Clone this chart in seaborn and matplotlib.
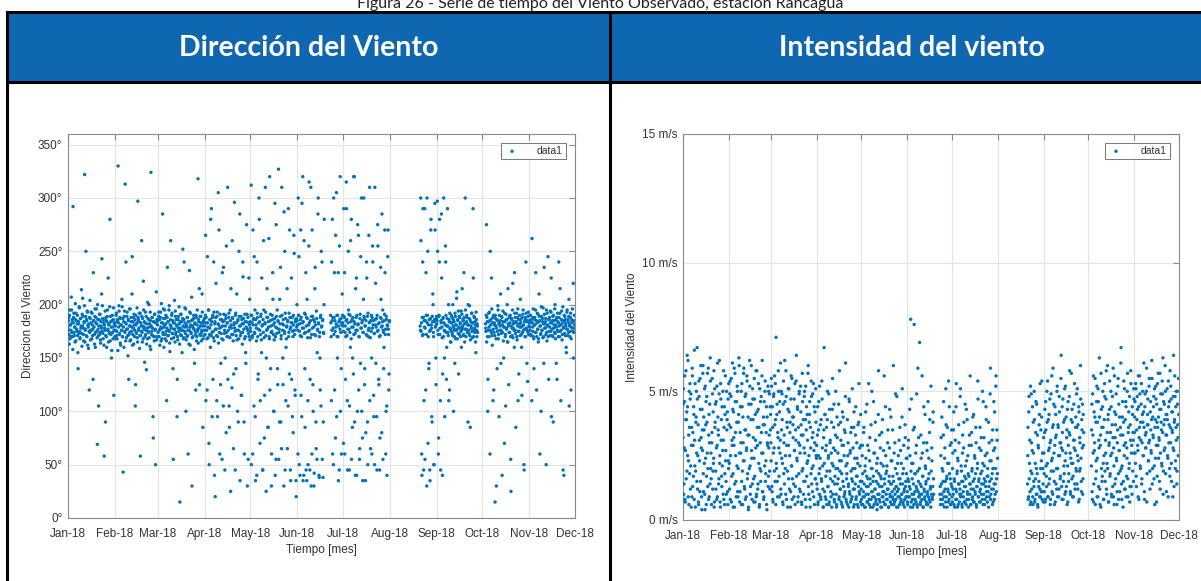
import numpy as np
import pandas as pd
import matplotlib
matplotlib.use("Agg")
import matplotlib.pyplot as plt
import matplotlib.dates as mdates
from matplotlib.ticker import FixedLocator, FuncFormatter
from matplotlib.patches import Rectangle
from matplotlib.lines import Line2D
import seaborn as sns

# ---------------- data (time series) ----------------
segments = [  # (start, end) of each month piece that has data
    ("2018-01-01", "2018-01-31 16:00"),
    ("2018-02-01", "2018-02-28 16:00"),
    ("2018-03-01", "2018-03-31 16:00"),
    ("2018-04-01", "2018-04-30 16:00"),
    ("2018-05-01", "2018-05-31 16:00"),
    ("2018-06-01", "2018-06-18 16:00"),
    ("2018-06-23", "2018-06-30 16:00"),
    ("2018-07-01", "2018-07-31 16:00"),
    ("2018-08-21", "2018-08-31 16:00"),
    ("2018-09-01", "2018-09-27 16:00"),
    ("2018-10-03", "2018-10-31 16:00"),
    ("2018-11-01", "2018-11-30 16:00"),
]

# wind direction [deg], two interleaved sample sets per piece
dir_jan = "178 185 172 190 168 181 176 195 183 170 292 188 174 179 165 186 192 177 182 171 140 184 198 175 169 187 180 173 191 206 178 166 183 322 176 189 171 185 194 162 179 182 120 174 187 176 193 168 181 177 230 185 172 189 160 183 196 175 69 186 171 180 191 174 167 184 178 243 199 173 186 162 181 176 90 188 170 184 195 177 165 182 174 280 189 172 150 185 179 168 197 176 183"
dir_jan_b = "176 188 163 195 181 170 207 174 186 158 183 192 171 179 201 166 185 175 190 155 182 173 197 168 187 178 214 161 180 189 172 184 199 165 177 250 186 170 193 181 159 175 188 204 167 183 176 192 171 130 185 179 163 196 174 188 182 169 200 177 105 186 172 191 164 180 210 175 187 168 183 58 178 194 171 185 160 189 176 225 181 173 198 166 184 179 157 190 174 186 115 182 170"
dir_feb = "183 176 190 171 168 185 330 179 194 173 187 162 181 176 198 170 43 184 189 175 313 166 182 177 193 171 186 130 180 174 196 167 184 179 245 172 188 163 181 176 105 190 174 183 169 297 186 178 192 171 58 183 175 189 165 180 222 177 184 170 193 176 139 182 168 187 174 200 179 161 185 324 172 188 178 95 184 170 191 176 50 183 167 186"
dir_feb_b = "180 168 192 175 186 157 183 199 172 188 164 181 176 205 170 187 179 160 194 174 183 240 169 189 177 152 185 172 196 166 180 188 175 210 162 184 178 191 170 186 125 181 173 197 165 188 176 184 159 192 171 180 260 174 187 168 195 179 146 183 172 189 163 178 202 175 186 169 182 193 158 180 175 188 171 75 184 166 191 177 183 212 170 186"
dir_mar = "181 174 189 170 186 177 193 166 183 178 285 172 187 179 195 168 182 175 110 188 171 184 176 199 164 181 260 178 190 173 185 55 169 183 177 194 172 186 180 130 167 189 175 182 15 178 191 171 184 176 252 168 186 179 197 173 100 181 170 188 176 184 163 232 179 192 174 185 30 180 170 187 177 145 183 172 190 166 181 175 318 186 178 125 189 171 183 174 210 180 168 185 176"
dir_mar_b = "185 170 193 176 162 188 179 201 168 183 174 196 160 181 187 172 190 166 178 235 184 171 195 175 156 186 180 168 192 173 140 183 177 204 165 189 174 181 95 170 186 178 198 163 184 172 191 176 155 187 180 169 240 175 183 196 167 179 188 171 60 184 176 193 162 181 173 207 169 186 178 190 158 182 175 120 188 170 195 177 164 184 215 172 180 189 166 176 193 85 183 171 187"
dir_apr = "180 172 265 188 176 120 183 169 195 50 178 186 280 171 184 95 190 175 240 166 182 20 188 177 110 193 170 305 181 174 60 186 145 179 168 230 184 105 191 173 45 180 187 255 170 183 130 176 192 85 169 185 215 178 122 188 172 65 181 296 175 190 140 183 167 100 186 176 250 180 35 171 189 115 182 174 226 187 90 168 184 155 179 275 191 176 55 183 170 205"
dir_apr_b = "176 190 110 183 168 245 179 195 70 172 186 160 181 290 174 188 130 169 193 40 184 177 220 171 189 95 182 164 270 178 191 125 173 186 55 180 167 235 185 176 150 190 80 174 183 310 170 188 105 179 195 25 181 172 260 187 166 135 183 178 45 192 171 210 176 185 90 168 189 285 180 174 115 186 163 240 182 177 60 191 170 145 184 178 30 188 173 225 181 167"
dir_may = "184 175 312 190 169 60 181 187 245 173 95 186 178 40 192 170 135 183 280 176 110 189 167 225 181 45 174 195 75 182 310 171 150 188 177 85 184 262 168 120 191 180 30 175 186 205 172 100 183 295 170 55 189 178 140 185 327 174 90 182 235 168 65 190 176 125 181 287 173 45 187 160 179 215 184 105 170 192 270 177 35 183 130 188 175 80 181 248 172 115 186 20 179"
dir_may_b = "178 190 50 183 171 270 186 105 174 195 35 181 166 240 188 130 177 300 184 70 172 191 155 180 45 186 260 169 115 183 193 25 176 215 188 85 179 170 320 185 140 174 60 190 230 181 100 167 187 40 179 275 173 195 125 184 55 177 205 189 90 171 310 182 150 186 30 175 250 192 110 168 180 65 185 290 174 135 188 45 179 225 183 95 170 190 265 176 120 184 35 187 200"
dir_jun_a = "185 176 300 190 50 182 171 270 188 95 178 320 184 40 173 140 191 230 180 35 187 110 175 255 183 45 169 310 189 60 178 125 186 30 172 215 181 90 194 55 176 285 183 40 170 150 188 105 179 240 185 38 174 200"
dir_jun_a_b = "181 60 190 245 175 40 186 115 170 295 183 35 178 260 192 85 174 45 188 205 169 50 181 315 176 130 185 30 172 270 189 100 179 42 184 235 171 65 187 155 177 300 182 38 174 120 190 250 180 55 186 90 173 280"
dir_jun_b = "190 170 240 185 60 178 300 188 120 175 265 182 95 170 190 230 180 45 186 320 174 140 183 210"
dir_jun_b_b = "183 110 176 280 188 50 172 230 185 75 179 305 190 150 170 35 184 255 177 100 187 60 181 190"
dir_jul = "183 175 290 188 60 180 170 315 186 110 177 250 191 45 174 160 184 280 179 85 188 135 172 320 182 40 176 225 190 100 181 265 170 55 187 145 178 300 183 75 174 205 189 125 180 35 185 240 171 90 192 170 178 310 184 65 175 150 188 255 181 115 173 50 186 220 179 95 190 275 176 130 183 45 171 235 187 80 180 195 176 140 185 270 172 60 189 105 181 245 177 120 184"
dir_jul_b = "180 70 189 230 174 130 185 290 171 45 183 195 177 105 190 260 168 55 186 150 179 320 184 90 173 215 188 40 176 275 182 120 170 65 191 245 178 100 185 35 174 300 187 140 180 80 172 225 189 50 176 265 183 110 169 185 190 60 178 240 185 95 173 310 181 145 187 45 175 255 182 125 170 75 188 205 179 285 184 55 174 160 191 230 177 100 186 40 180 270 172 135 185"
dir_aug = "180 300 175 60 188 240 172 45 185 290 178 120 190 30 183 250 170 140 186 45 176 270 181 95 189 210 174 50 184 295 179 150 187"
dir_aug_b = "176 260 183 40 171 290 188 110 179 55 185 230 172 300 190 70 181 145 175 35 187 280 178 90 184 200 170 50 186 270 180 125 189"
dir_sep = "182 297 176 60 189 240 172 110 185 285 179 40 187 170 183 150 175 255 190 130 180 290 174 200 186 120 178 165 183 175 188 171 180 100 184 176 192 168 181 206 177 186 173 135 189 178 182 170 194 176 215 180 185 172 188 165 300 183 177 190 174 181 200 176 187 171 85 184 178 192 169 183 225 176 188 174 181 155 186 170 180"
dir_sep_b = "185 250 172 75 190 280 178 45 183 225 169 135 188 300 176 95 181 240 174 160 187 180 171 110 184 192 177 165 190 183 173 200 186 178 170 145 189 181 176 212 168 185 194 179 172 188 183 175 160 191 178 186 171 230 182 177 195 170 184 188 176 90 181 173 199 186 167 180 192 175 183 290 170 189 178 184 165 193 176 182 174"
dir_oct = "182 175 275 188 170 130 184 179 193 60 176 186 225 171 183 110 190 174 181 15 187 168 178 140 185 195 172 95 183 180 210 176 189 40 174 184 150 179 192 170 105 186 178 200 165 182 125 188 174 190 55 180 186 171 220 178 184 160 192 176 85 183 170 188 196 175 135 182 179 205 186 172 115 180 191 176 50 184 170 188 240 178 145 185 174 193 180"
dir_oct_b = "178 190 165 184 100 176 192 170 185 250 181 174 196 162 188 177 120 183 171 190 180 30 186 175 199 168 182 190 176 185 145 173 188 181 194 166 179 70 184 172 191 177 186 165 215 180 174 189 183 170 25 187 178 195 169 182 176 230 188 173 184 192 167 180 110 186 175 190 171 183 179 160 188 174 195 181 45 177 186 170 192 184 176 128 189 172 183"
dir_nov = "185 176 190 172 183 262 179 188 170 140 186 181 195 174 120 183 177 191 168 210 185 180 172 100 189 176 184 197 170 235 182 178 187 50 174 192 181 170 130 186 179 194 175 225 183 171 189 90 178 185 196 173 181 145 188 176 184 170 240 180 192 175 110 186 182 172 198 178 40 184 189 171 180 155 193 177 186 174 205 182 170 188 120 179 184 196 175 150 185 178"
dir_nov_b = "179 190 171 186 110 183 175 196 168 181 188 174 230 185 170 192 177 165 184 189 60 180 173 198 176 187 169 182 145 191 178 184 172 195 166 180 245 186 175 188 171 183 193 95 177 185 170 190 181 174 200 168 186 179 130 192 175 183 188 170 215 181 176 194 167 185 45 179 190 173 186 182 160 177 195 171 184 189 105 180 175 192 168 186 178 183 220 174 190 181"

# wind speed [m/s]
spd_jan = "3.2 5.1 1.4 4.6 0.8 2.7 5.8 3.9 1.9 4.4 6.2 2.3 0.6 3.6 5.3 1.2 4.9 2.9 0.9 5.6 3.4 1.7 4.1 6.6 2.1 0.5 3.8 5.0 1.5 4.7 2.5 0.7 5.4 3.1 1.1 4.3 6.0 2.8 0.4 3.5 5.7 1.8 4.0 2.2 1.0 5.2 3.7 0.6 4.8 2.6 1.3 5.9 3.3 0.9 4.5 6.3 2.0 1.6 3.0 5.5 1.2 4.2 2.4 0.5 5.1 3.8 1.9 4.6 0.8 2.9 6.1 3.5 1.4 4.9 2.2 0.7 5.3 3.1 1.7 4.4 2.7 1.0 5.8 3.6 0.6 4.1 2.3 1.5 5.0 3.9 1.1 4.7 2.0"
spd_jan_b = "4.5 1.0 2.8 5.6 0.7 3.9 1.6 4.2 6.4 2.5 0.9 3.3 5.0 1.8 4.7 2.1 0.5 3.6 5.9 1.3 2.9 4.4 0.8 3.1 5.3 1.9 4.0 2.6 6.7 1.2 3.7 0.6 4.8 2.3 5.5 1.5 3.2 0.9 4.3 2.7 6.0 1.1 3.5 5.1 0.4 2.4 4.6 1.7 3.8 5.7 2.0 0.8 4.1 3.0 1.4 5.4 2.6 0.6 3.4 4.9 1.9 2.2 5.8 0.7 3.6 4.5 1.2 2.8 5.2 0.9 4.0 3.3 1.6 6.2 2.5 0.5 4.7 3.9 1.3 2.1 5.0 3.1 0.8 4.4 1.8 5.6 2.7 1.0 3.5 4.2 0.6 2.3 5.3"
spd_feb = "3.7 1.2 5.4 2.5 4.8 0.7 3.1 6.1 1.8 4.2 2.9 0.5 5.7 3.4 1.5 4.6 2.1 5.0 0.9 3.8 6.3 2.6 1.1 4.4 3.0 0.6 5.3 1.9 4.0 2.3 5.9 1.3 3.5 0.8 4.9 2.7 5.6 1.6 3.3 0.4 4.5 2.0 5.2 1.0 3.9 6.0 2.4 1.4 4.7 3.2 0.7 5.5 1.7 4.1 2.8 0.9 5.8 3.6 1.2 4.3 2.2 0.5 5.1 3.0 1.5 4.8 2.6 6.2 1.1 3.7 0.8 4.6 2.1 5.4 1.8 3.4 0.6 4.0 2.9 1.3 5.0 3.3 1.9 4.4"
spd_feb_b = "2.2 4.9 0.8 3.6 5.5 1.7 2.9 4.3 0.5 3.2 5.9 1.4 4.6 2.5 0.9 3.8 5.2 1.1 2.0 4.1 6.0 0.7 3.4 2.6 5.0 1.5 4.4 0.6 3.0 5.7 2.3 1.2 4.8 3.5 0.9 2.8 5.4 1.8 4.0 0.5 3.3 6.2 2.1 1.3 4.5 2.7 0.8 5.1 3.9 1.6 2.4 4.7 0.7 3.1 5.8 1.0 4.2 2.9 1.4 5.3 3.6 0.6 2.0 4.6 1.9 3.4 5.6 1.1 2.6 4.0 0.9 3.7 5.0 1.5 2.3 4.4 0.4 3.0 5.2 1.7 2.8 4.9 1.2 3.5"
spd_mar = "4.1 2.3 5.2 1.1 3.6 0.7 4.8 2.8 5.6 1.5 3.9 7.1 2.0 4.5 0.9 3.2 5.0 1.7 4.2 2.6 6.1 1.0 3.5 4.9 2.2 0.6 5.4 3.0 1.4 4.6 2.5 5.8 0.8 3.8 1.9 4.3 2.9 5.1 1.2 3.4 0.5 4.7 2.1 5.5 1.6 3.7 4.0 0.9 2.7 5.3 1.3 3.1 6.4 2.4 4.4 0.7 3.6 1.8 5.0 2.9 1.1 4.2 3.3 0.6 5.7 2.0 3.9 1.5 4.8 2.6 0.8 5.2 3.5 1.7 4.1 2.3 6.0 1.0 3.8 4.6 0.5 2.8 5.4 1.4 3.2 4.9 2.1 0.9 4.4 3.0 1.6 5.1 2.5"
spd_mar_b = "3.0 5.5 1.3 4.4 0.8 2.6 4.9 1.9 3.7 5.3 0.6 2.2 4.1 1.5 3.4 5.8 2.8 0.9 4.6 3.1 1.2 5.0 2.4 3.9 0.7 4.5 1.8 3.3 6.2 2.0 1.0 4.8 2.9 3.6 0.5 5.1 1.6 4.2 2.5 3.8 1.1 5.6 2.1 0.8 4.0 3.2 1.4 4.7 2.7 0.6 3.5 5.4 1.7 2.3 4.3 0.9 3.0 4.9 1.2 2.6 5.2 3.7 0.7 1.9 4.6 3.3 1.0 2.8 5.0 1.5 3.9 0.5 4.4 2.2 3.1 5.7 1.3 2.5 4.1 0.8 3.6 1.8 4.8 2.0 1.1 3.4 5.3 2.7 0.6 4.2 1.6 3.8 2.4"
spd_apr = "2.9 1.2 4.4 0.7 3.5 1.8 5.2 2.4 0.9 3.9 1.5 4.7 2.1 0.5 3.2 6.7 1.1 4.1 2.7 0.8 3.6 1.9 5.0 1.3 2.5 0.6 4.3 3.0 1.6 0.9 3.8 2.2 5.5 1.0 2.8 4.5 0.7 1.7 3.3 2.0 0.5 4.0 1.4 2.6 3.7 0.8 5.8 1.9 1.2 3.1 2.3 0.6 4.2 1.5 2.9 0.9 3.5 1.1 4.8 2.1 0.7 1.8 3.9 2.5 1.3 0.5 4.6 1.0 2.7 3.4 0.8 1.6 5.1 2.0 1.2 3.6 0.6 2.4 1.4 4.4 0.9 3.0 1.7 2.2 0.5 3.8 1.1 2.8 1.5 4.1"
spd_apr_b = "1.4 3.3 0.6 2.5 4.6 1.0 2.0 3.7 0.8 1.6 5.4 2.8 1.2 0.5 3.5 2.2 4.1 0.9 1.7 2.9 0.6 3.9 1.3 2.4 4.9 0.7 1.9 3.1 1.1 2.6 0.5 4.3 1.5 2.1 3.6 0.8 1.4 2.7 5.0 1.0 0.6 3.2 2.0 1.6 4.5 0.9 2.3 1.2 3.8 0.7 1.8 2.9 0.5 4.0 1.3 2.5 1.0 3.4 6.1 0.8 1.6 2.2 0.6 3.0 1.4 4.7 1.1 2.6 0.7 1.9 3.6 0.9 1.5 2.8 0.5 4.2 1.2 2.0 3.3 0.8 1.7 2.4 0.6 3.7 1.3 5.3 1.0 2.1 0.7 2.9"
spd_may = "1.2 0.6 2.5 1.8 0.9 3.4 1.4 0.5 2.1 4.2 1.0 1.7 0.7 2.9 1.3 5.3 0.8 2.3 1.6 0.5 3.7 1.1 2.0 0.9 1.5 4.6 0.6 2.6 1.2 3.1 0.8 1.9 0.4 2.4 1.4 5.8 1.0 3.3 0.7 1.7 2.2 0.5 1.3 3.9 0.9 2.7 1.1 1.6 0.6 4.4 1.8 0.8 2.1 1.2 3.5 0.5 1.5 2.8 1.0 0.7 4.0 1.4 2.3 0.9 1.7 6.0 0.6 1.2 3.0 2.0 0.8 1.3 4.8 1.1 0.5 2.5 1.6 0.9 3.6 1.4 0.7 2.2 1.0 5.1 1.8 0.6 2.9 1.2 0.8 3.2 1.5 2.4 0.9"
spd_may_b = "0.8 1.5 2.9 0.6 1.1 3.6 0.9 1.9 0.5 2.4 1.3 4.5 0.7 1.6 1.0 2.7 0.6 3.2 1.4 0.8 2.0 5.0 1.1 0.5 1.7 2.6 0.9 1.2 3.8 0.7 1.5 2.2 0.6 1.0 4.1 1.8 0.8 1.3 2.8 0.5 1.6 3.4 0.9 1.1 2.1 0.7 5.6 1.4 0.6 2.5 1.0 1.9 0.8 3.0 1.2 0.5 1.7 4.3 0.9 1.4 2.3 0.6 1.1 3.5 0.8 1.5 2.6 0.7 1.0 4.9 1.3 0.5 1.8 2.2 0.9 1.2 3.1 0.6 1.6 2.7 0.8 1.0 4.0 1.4 0.7 2.0 1.1 0.5 3.7 1.3 0.9 1.8 2.4"
spd_jun_a = "1.1 0.6 2.8 1.5 0.9 4.3 1.2 7.8 0.7 2.2 1.6 0.5 3.5 1.0 7.6 1.8 0.8 2.6 1.3 4.9 0.6 1.9 1.1 3.2 0.9 6.9 1.4 0.7 2.4 1.0 5.6 1.7 0.5 3.0 1.2 0.8 4.1 2.0 1.5 0.6 2.7 1.1 4.6 0.9 1.8 3.4 0.7 1.3 5.2 1.0 2.3 0.8 3.8 1.6"
spd_jun_a_b = "0.7 1.6 3.1 0.9 1.3 2.5 0.5 1.9 4.7 1.0 0.8 2.2 1.4 0.6 3.6 1.1 1.8 0.7 2.9 1.2 0.5 5.9 1.5 0.9 2.0 1.0 0.6 3.3 1.3 0.8 2.6 1.7 0.5 4.4 1.1 0.9 2.1 1.4 0.7 3.0 1.0 0.6 1.6 2.4 0.8 3.9 1.2 0.5 1.9 2.8 0.9 1.3 4.2 1.0"
spd_jun_b = "1.0 0.6 2.5 1.4 4.0 0.8 1.9 3.3 1.1 0.5 2.8 1.5 5.1 0.9 1.7 3.6 1.2 0.7 2.2 4.4 1.0 1.6 0.6 3.0"
spd_jun_b_b = "1.3 0.8 3.2 1.0 2.0 0.6 1.5 4.6 0.9 2.4 1.2 0.7 3.7 1.6 0.5 2.2 1.1 5.4 0.8 1.8 2.9 0.6 1.4 3.5"
spd_jul = "1.3 0.7 2.6 1.0 4.2 1.6 0.5 3.1 1.2 5.3 0.8 1.9 2.4 0.6 3.7 1.4 1.0 4.8 0.9 2.1 1.5 0.5 3.3 1.1 2.8 0.7 1.7 4.5 1.3 0.6 2.3 3.9 1.0 1.8 0.8 2.9 1.4 5.6 0.6 1.2 3.4 2.0 0.9 1.5 4.1 0.7 2.5 1.1 1.8 3.0 0.5 1.3 2.2 4.7 0.9 1.6 0.7 3.6 1.2 2.7 1.0 1.9 5.0 0.6 1.4 3.2 2.1 0.8 1.5 4.4 1.1 2.6 0.7 1.7 3.8 1.3 0.9 2.3 5.9 1.0 1.6 3.1 0.6 2.0 1.2 4.6 0.8 2.8 1.4 5.2 1.1 3.5 1.8"
spd_jul_b = "0.9 2.0 1.2 3.5 0.6 1.5 2.7 0.8 4.4 1.1 1.8 0.5 2.3 1.4 3.0 0.7 1.2 5.1 1.0 1.9 0.6 2.6 1.5 0.9 3.8 1.3 0.7 2.1 1.6 4.3 0.8 1.1 2.5 0.5 1.7 3.3 1.0 1.4 0.6 2.9 1.9 0.8 4.0 1.2 0.7 1.6 2.4 1.0 3.6 0.6 1.3 2.0 5.4 0.9 1.5 2.8 1.1 0.7 1.8 3.2 1.4 0.8 2.2 4.6 1.0 1.6 0.6 2.5 1.3 3.9 0.9 1.7 2.0 1.1 0.5 3.0 1.5 4.9 0.8 2.3 1.2 1.8 3.5 0.7 2.7 1.4 4.2 1.0 2.0 5.6 1.6 3.1 2.4"
spd_aug = "1.4 3.6 0.9 4.8 2.2 1.1 5.2 0.7 3.0 1.8 4.4 0.6 2.6 1.3 3.9 0.8 1.6 4.6 2.0 1.0 3.3 0.5 2.8 1.5 4.1 1.2 0.9 3.5 2.3 5.4 1.1 2.0 0.7"
spd_aug_b = "2.5 0.8 4.2 1.6 3.1 0.6 1.9 4.9 1.2 2.7 0.9 3.8 1.5 5.0 0.7 2.2 3.4 1.0 4.5 1.8 0.6 2.9 1.3 3.7 0.9 5.3 2.0 1.1 4.0 0.8 2.6 1.4 3.2"
spd_sep = "2.6 1.1 4.3 0.8 3.5 1.7 5.0 2.2 0.9 3.9 1.4 2.8 4.7 0.6 3.1 1.9 5.6 2.4 1.0 3.7 4.5 1.5 2.9 0.7 4.1 3.3 1.2 5.2 2.0 3.6 0.9 4.8 2.5 1.6 3.0 6.4 1.3 4.4 2.7 0.8 3.8 1.8 5.1 2.3 1.1 4.0 3.2 0.6 2.1 4.6 1.5 3.4 5.8 2.6 1.0 3.9 2.2 4.3 0.9 1.7 3.1 2.8 5.3 1.2 3.6 2.0 4.9 1.4 2.5 3.7 0.7 4.2 1.9 3.0 6.0 2.4 1.1 3.5 4.5 1.6 2.9"
spd_sep_b = "1.8 3.4 0.7 4.6 2.1 1.3 3.8 5.4 0.9 2.7 4.1 1.6 3.0 0.8 4.9 2.3 1.1 3.6 5.9 1.9 2.6 0.6 4.4 3.2 1.4 2.0 5.0 0.9 3.7 2.5 1.2 4.2 3.0 1.7 5.5 2.8 0.8 3.4 4.7 1.5 2.1 3.9 1.0 5.2 2.6 1.3 3.5 4.3 0.7 2.9 1.8 4.8 3.3 1.1 2.4 5.7 1.6 3.8 2.2 0.9 4.5 3.1 1.4 2.7 4.0 1.9 3.6 5.1 1.2 2.3 4.4 0.8 3.2 2.0 4.7 1.5 3.9 2.8 1.0 4.1 3.4"
spd_oct = "2.1 4.5 0.8 3.3 5.6 1.4 2.7 4.0 0.6 3.8 1.9 5.2 2.4 0.9 4.6 3.1 6.3 1.2 2.9 0.5 4.3 3.6 1.7 5.0 2.2 0.8 3.9 4.8 1.5 2.6 5.8 1.0 3.4 2.0 4.1 0.7 3.0 5.4 1.8 2.5 4.4 0.9 3.7 1.3 5.9 2.8 0.6 4.2 3.2 1.6 4.9 2.3 1.1 3.5 5.5 0.8 2.7 4.0 1.9 3.3 6.7 1.4 2.1 4.6 0.5 3.8 2.9 5.1 1.2 3.0 4.4 1.7 2.4 5.7 0.9 3.6 2.0 4.8 1.3 3.1 5.3 2.6 1.0 4.1 3.4 1.5 4.7"
spd_oct_b = "3.5 1.1 4.9 2.6 0.7 4.2 3.0 5.5 1.6 2.3 4.6 0.9 3.8 5.1 1.3 2.8 4.0 0.6 3.3 5.7 2.0 1.5 4.4 3.6 0.8 2.5 5.3 1.9 3.1 4.7 1.2 2.2 6.0 3.9 0.7 2.9 4.3 1.7 3.4 5.0 1.0 2.6 4.8 3.2 0.9 2.1 5.6 1.4 3.7 4.1 2.4 0.6 3.0 5.2 1.8 4.5 2.7 1.1 3.6 6.1 2.0 0.8 4.0 3.3 1.5 5.4 2.5 1.2 3.9 4.6 0.9 2.8 5.0 1.6 3.4 4.2 2.2 0.7 3.7 5.8 1.3 2.9 4.4 1.9 3.1 5.1 2.6"
spd_nov = "3.4 4.6 2.2 5.1 1.3 3.9 4.3 2.7 5.6 0.8 3.6 4.9 2.0 3.1 5.3 1.6 4.1 3.8 2.5 6.1 1.1 4.4 3.3 2.8 5.0 0.7 3.7 4.7 2.3 3.0 5.5 1.9 4.2 3.5 2.6 6.2 1.4 4.0 3.2 4.8 2.1 0.6 3.9 5.2 2.9 4.5 1.7 3.6 5.7 2.4 3.1 4.3 1.2 4.9 3.8 2.2 5.4 3.4 1.0 4.6 2.7 3.9 6.0 1.8 4.1 3.3 5.1 2.5 0.9 4.4 3.7 2.0 5.8 3.0 4.7 1.5 3.5 4.2 2.8 6.4 1.3 3.9 4.8 2.3 3.6 5.0 1.9 4.5 3.2 5.5"
spd_nov_b = "4.0 2.6 5.3 1.7 3.5 4.8 2.9 0.9 4.4 3.2 5.6 2.1 3.8 4.5 1.4 3.0 5.0 2.5 4.2 3.6 0.8 4.9 2.8 3.4 5.9 1.8 4.1 3.7 2.3 5.2 3.1 1.2 4.6 2.7 3.9 5.5 2.0 3.3 4.4 1.6 5.1 3.6 2.4 4.7 0.7 3.8 5.3 2.9 4.0 3.2 1.5 5.7 2.6 4.3 3.5 2.1 4.9 6.3 1.9 3.7 4.5 2.8 5.0 3.3 1.1 4.1 3.9 2.4 5.4 3.0 4.6 1.7 3.6 5.2 2.2 4.2 3.4 0.9 4.8 2.7 3.8 5.6 2.0 4.4 3.1 1.4 5.0 3.7 2.5 4.1"

dir_pieces = [(dir_jan, dir_jan_b), (dir_feb, dir_feb_b), (dir_mar, dir_mar_b),
              (dir_apr, dir_apr_b), (dir_may, dir_may_b), (dir_jun_a, dir_jun_a_b),
              (dir_jun_b, dir_jun_b_b), (dir_jul, dir_jul_b), (dir_aug, dir_aug_b),
              (dir_sep, dir_sep_b), (dir_oct, dir_oct_b), (dir_nov, dir_nov_b)]
spd_pieces = [(spd_jan, spd_jan_b), (spd_feb, spd_feb_b), (spd_mar, spd_mar_b),
              (spd_apr, spd_apr_b), (spd_may, spd_may_b), (spd_jun_a, spd_jun_a_b),
              (spd_jun_b, spd_jun_b_b), (spd_jul, spd_jul_b), (spd_aug, spd_aug_b),
              (spd_sep, spd_sep_b), (spd_oct, spd_oct_b), (spd_nov, spd_nov_b)]

month_ticks = pd.date_range("2018-01-01", "2018-12-01", freq="MS")
dir_ticks = [0, 50, 100, 150, 200, 250, 300, 350]
spd_ticks = [0, 5, 10, 15]


def build(pieces):
    frames = []
    for (s, e), (txt_a, txt_b) in zip(segments, pieces):
        for txt, off in ((txt_a, "0h"), (txt_b, "4h")):
            vals = [float(v) for v in txt.split()]
            t = pd.date_range(pd.Timestamp(s) + pd.Timedelta(off),
                              pd.Timestamp(e) + pd.Timedelta(off), periods=len(vals))
            frames.append(pd.DataFrame({"t": t, "v": vals}))
    return pd.concat(frames, ignore_index=True).sort_values("t")


df_dir = build(dir_pieces)
df_spd = build(spd_pieces)

# ---------------- figure ----------------
sns.set_style("white")
plt.rcParams["font.family"] = ["Liberation Sans", "DejaVu Sans"]

W, H = 1201, 581
fig = plt.figure(figsize=(W / 100, H / 100), dpi=100)


def fx(px):
    return px / W


def fy(py):
    return 1 - py / H


BLUE_HDR = "#0f67b1"
MARK = "#0072bd"

# caption (cut at the top edge, as in the source)
fig.text(0.5, fy(8), "Figura 26 - Serie de tiempo del Viento Observado, estación Rancagua",
         ha="center", va="baseline", fontsize=11.5, family=["Lato", "DejaVu Sans"], color="#222222")

# table header cells
fig.patches.append(Rectangle((fx(8), fy(81)), fx(1201) - fx(8), fy(12) - fy(81),
                             transform=fig.transFigure, facecolor=BLUE_HDR, edgecolor="none", zorder=0))
lw_tab = 2.2
for (x0, y0, x1, y1) in [(7, 12, 1201, 12), (7, 82, 1201, 82), (7, 12, 7, 581), (610, 12, 610, 581)]:
    fig.add_artist(Line2D([fx(x0), fx(x1)], [fy(y0), fy(y1)], transform=fig.transFigure,
                          color="black", lw=lw_tab, solid_capstyle="projecting"))

fig.text(fx(309), fy(48), "Dirección del Viento", ha="center", va="center", color="white",
         fontsize=20.5, fontweight="bold", family=["Lato", "DejaVu Sans"])
fig.text(fx(912), fy(48), "Intensidad del viento", ha="center", va="center", color="white",
         fontsize=20.5, fontweight="bold", family=["Lato", "DejaVu Sans"])

ax1 = fig.add_axes([fx(68), fy(518), fx(575) - fx(68), fy(134) - fy(518)])
ax2 = fig.add_axes([fx(683), fy(520), fx(1179) - fx(683), fy(134) - fy(520)])


def style(ax, df, ylim, yticks, yfmt, ylabel):
    sns.scatterplot(data=df, x="t", y="v", ax=ax, s=6, color=MARK, edgecolor="none",
                    linewidth=0, label="data1", zorder=3)
    ax.set_xlim(month_ticks[0], month_ticks[-1])
    ax.set_ylim(*ylim)
    ax.xaxis.set_major_locator(FixedLocator(mdates.date2num(month_ticks)))
    ax.xaxis.set_major_formatter(mdates.DateFormatter("%b-%y"))
    ax.yaxis.set_major_locator(FixedLocator(yticks))
    ax.yaxis.set_major_formatter(FuncFormatter(yfmt))
    ax.grid(True, color="#e4e4e4", lw=0.8, zorder=0)
    ax.set_axisbelow(True)
    for sp in ax.spines.values():
        sp.set_color("#8a8a8a")
        sp.set_linewidth(0.8)
    ax.tick_params(direction="in", length=4, width=0.8, color="#8a8a8a",
                   top=True, right=True, labelsize=8.5, labelcolor="#333333")
    ax.tick_params(axis="x", pad=7)
    ax.tick_params(axis="y", pad=4)
    ax.set_xlabel("Tiempo [mes]", fontsize=8.5, color="#333333", labelpad=3)
    ax.set_ylabel(ylabel, fontsize=8.5, color="#333333", labelpad=3)
    leg = ax.legend(loc="upper right", fontsize=7.5, frameon=True, fancybox=False,
                    markerscale=1.0, handletextpad=1.6, borderpad=0.25,
                    borderaxespad=0.9, handlelength=1.6)
    leg.get_frame().set_edgecolor("#555555")
    leg.get_frame().set_linewidth(0.7)
    for t in leg.get_texts():
        t.set_color("#333333")


style(ax1, df_dir, (0, 360), dir_ticks, lambda v, p: f"{int(v)}°", "Direccion del Viento")
style(ax2, df_spd, (0, 15), spd_ticks, lambda v, p: f"{int(v)} m/s", "Intensidad del Viento")

fig.savefig("out.png", dpi=100)
